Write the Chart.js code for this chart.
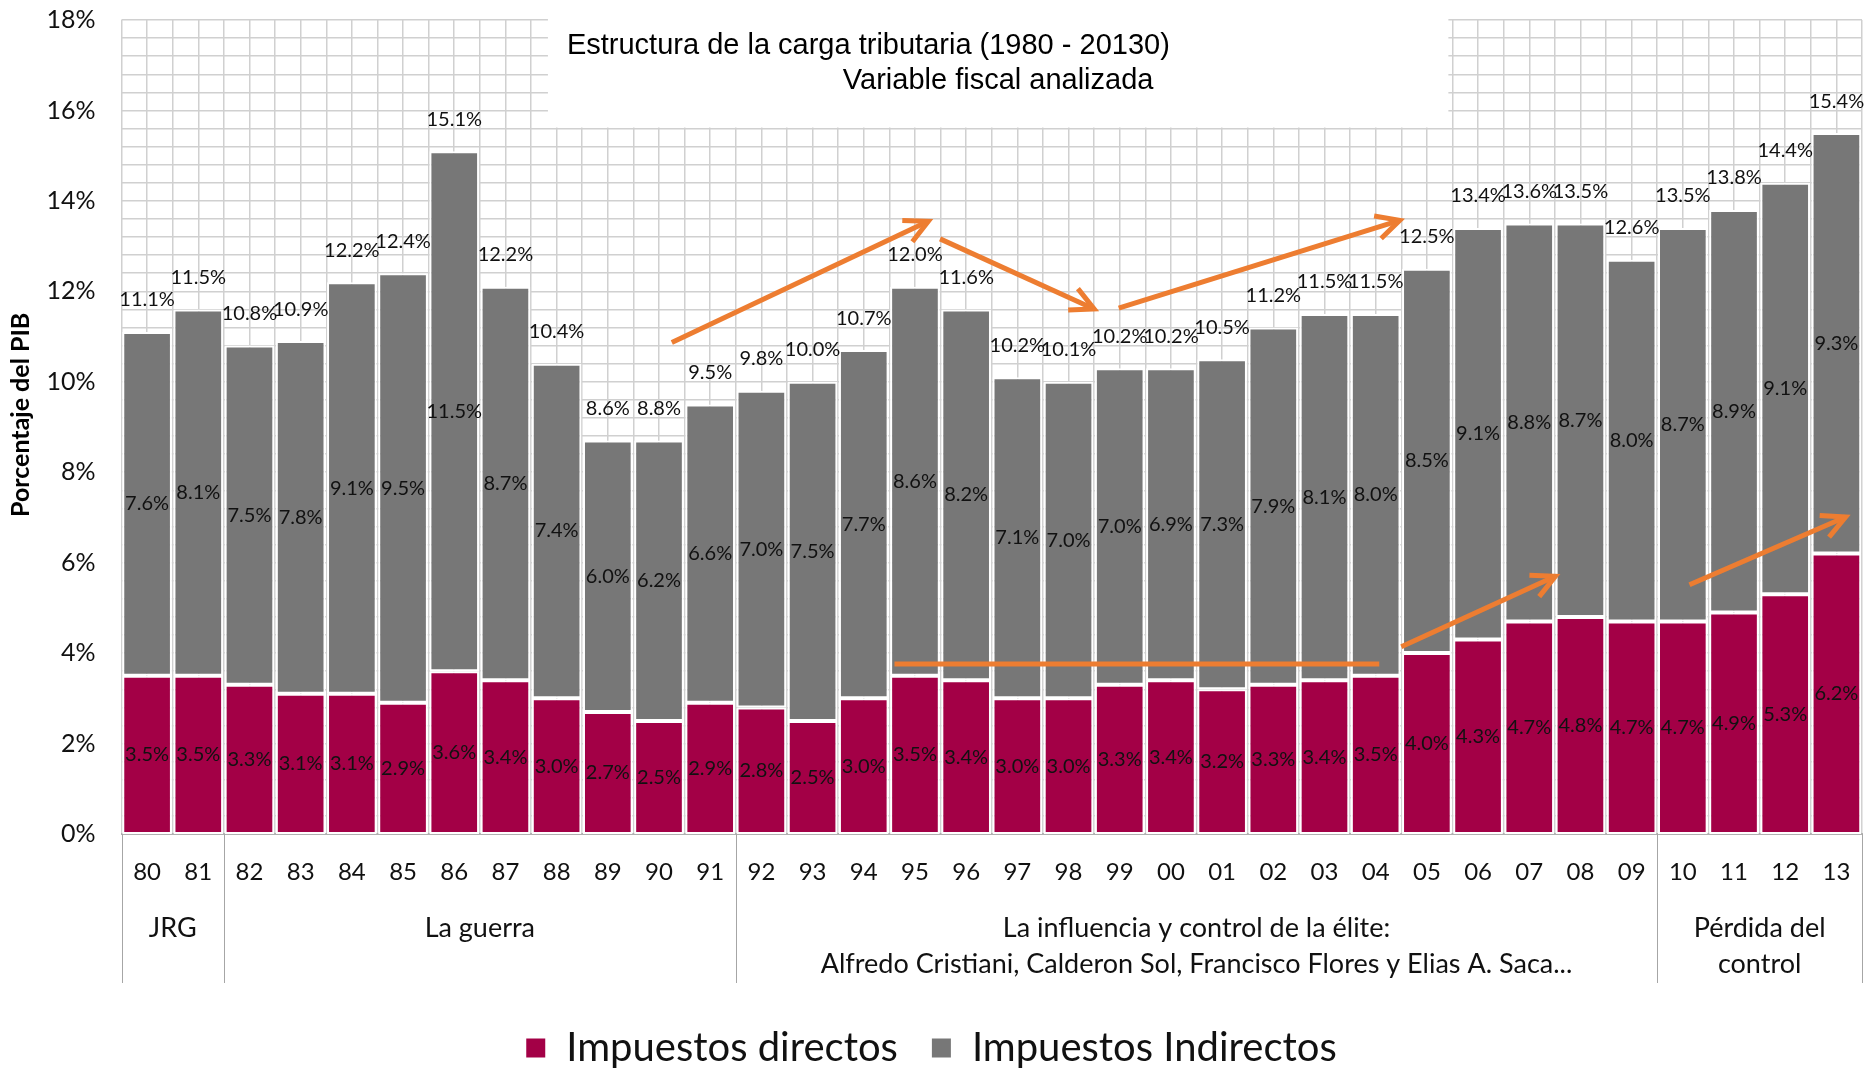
<!DOCTYPE html>
<html>
<head>
<meta charset="utf-8">
<script src="https://cdn.jsdelivr.net/npm/chart.js@4.4.1/dist/chart.umd.min.js"></script>
<style>
  html, body { margin: 0; padding: 0; background: #fff; }
</style>
</head>
<body>
<canvas id="grafico" width="1868" height="1070"></canvas>
<script>
// datos (porcentaje del PIB)
const anios = ["80", "81", "82", "83", "84", "85", "86", "87", "88", "89", "90", "91", "92", "93", "94", "95", "96",
  "97", "98", "99", "00", "01", "02", "03", "04", "05", "06", "07", "08", "09", "10", "11", "12", "13"];
const directos = [3.5, 3.5, 3.3, 3.1, 3.1, 2.9, 3.6, 3.4, 3.0, 2.7, 2.5, 2.9, 2.8, 2.5, 3.0, 3.5, 3.4,
  3.0, 3.0, 3.3, 3.4, 3.2, 3.3, 3.4, 3.5, 4.0, 4.3, 4.7, 4.8, 4.7, 4.7, 4.9, 5.3, 6.2];
const indirectos = [7.6, 8.1, 7.5, 7.8, 9.1, 9.5, 11.5, 8.7, 7.4, 6.0, 6.2, 6.6, 7.0, 7.5, 7.7, 8.6, 8.2,
  7.1, 7.0, 7.0, 6.9, 7.3, 7.9, 8.1, 8.0, 8.5, 9.1, 8.8, 8.7, 8.0, 8.7, 8.9, 9.1, 9.3];
const totales = [11.1, 11.5, 10.8, 10.9, 12.2, 12.4, 15.1, 12.2, 10.4, 8.6, 8.8, 9.5, 9.8, 10.0, 10.7, 12.0, 11.6,
  10.2, 10.1, 10.2, 10.2, 10.5, 11.2, 11.5, 11.5, 12.5, 13.4, 13.6, 13.5, 12.6, 13.5, 13.8, 14.4, 15.4];

// periodos del eje x (indices de anios)
const grupos = [
  { desde: 0, hasta: 1, texto: ["JRG"] },
  { desde: 2, hasta: 11, texto: ["La guerra"] },
  { desde: 12, hasta: 29, texto: ["La influencia y control de la élite:", "Alfredo Cristiani, Calderon Sol, Francisco Flores y Elias A. Saca..."] },
  { desde: 30, hasta: 33, texto: ["Pérdida del", "control"] }
];

// flechas naranjas (indice de anio, % del PIB)
const flechas = [
  { x0: 10.25, y0: 10.87, x1: 15.26, y1: 13.55, punta: true },
  { x0: 15.49, y0: 13.16, x1: 18.50, y1: 11.61, punta: true },
  { x0: 18.98, y0: 11.63, x1: 24.47, y1: 13.57, punta: true },
  { x0: 14.60, y0: 3.76, x1: 24.07, y1: 3.76, punta: false },
  { x0: 24.50, y0: 4.14, x1: 27.51, y1: 5.70, punta: true },
  { x0: 30.13, y0: 5.51, x1: 33.18, y1: 7.01, punta: true }
];

const titulo = ["Estructura de la carga tributaria (1980 - 20130)", "Variable fiscal analizada"];
const cajaTitulo = { x0: 7.83, x1: 25.42, y0: 15.6, y1: 18 };

const colorDirectos = "#A30046";
const colorIndirectos = "#777777";
const colorGrilla = "#D0D0D0";

// caja blanca del titulo sobre la grilla
const tituloPlugin = {
  id: "titulo",
  beforeDatasetsDraw(chart) {
    const ctx = chart.ctx;
    const x2 = chart.scales.x2;
    const y = chart.scales.y;
    const l = x2.getPixelForValue(cajaTitulo.x0);
    const r = x2.getPixelForValue(cajaTitulo.x1);
    const t = y.getPixelForValue(cajaTitulo.y1) - 3;
    const b = y.getPixelForValue(cajaTitulo.y0) - 1;
    ctx.save();
    ctx.fillStyle = "#fff";
    ctx.fillRect(l, t, r - l, b - t);
    ctx.fillStyle = "#000";
    ctx.font = "29px 'Liberation Sans', Arial, sans-serif";
    ctx.textBaseline = "middle";
    ctx.textAlign = "left";
    ctx.fillText(titulo[0], l + 19, chart.chartArea.top + 26);
    ctx.textAlign = "center";
    ctx.fillText(titulo[1], (l + r) / 2, chart.chartArea.top + 61);
    ctx.restore();
  }
};

// valores sobre y dentro de las barras
const etiquetasPlugin = {
  id: "etiquetas",
  afterDatasetsDraw(chart) {
    const ctx = chart.ctx;
    ctx.save();
    ctx.font = "20px Lato, sans-serif";
    ctx.fillStyle = "#111";
    ctx.textAlign = "center";
    ctx.textBaseline = "middle";
    chart.data.datasets.forEach((ds, d) => {
      chart.getDatasetMeta(d).data.forEach((bar, i) => {
        ctx.fillText(ds.data[i].toFixed(1) + "%", bar.x, (bar.y + bar.base) / 2);
      });
    });
    chart.getDatasetMeta(1).data.forEach((bar, i) => {
      ctx.fillText(totales[i].toFixed(1) + "%", bar.x, bar.y - 32);
    });
    ctx.restore();
  }
};

function flecha(ctx, x0, y0, x1, y1, punta) {
  ctx.beginPath();
  ctx.moveTo(x0, y0);
  ctx.lineTo(x1, y1);
  ctx.stroke();
  if (punta) {
    const a = Math.atan2(y1 - y0, x1 - x0);
    const L = 26, w = Math.PI * 27 / 180;
    ctx.beginPath();
    ctx.moveTo(x1 - L * Math.cos(a - w), y1 - L * Math.sin(a - w));
    ctx.lineTo(x1, y1);
    ctx.lineTo(x1 - L * Math.cos(a + w), y1 - L * Math.sin(a + w));
    ctx.stroke();
  }
}

const flechasPlugin = {
  id: "flechas",
  afterDatasetsDraw(chart) {
    const ctx = chart.ctx;
    const x2 = chart.scales.x2;
    const y = chart.scales.y;
    ctx.save();
    ctx.strokeStyle = "#ED7D31";
    ctx.lineWidth = 5;
    ctx.lineCap = "butt";
    ctx.lineJoin = "miter";
    flechas.forEach(f => {
      flecha(ctx, x2.getPixelForValue(f.x0), y.getPixelForValue(f.y0),
        x2.getPixelForValue(f.x1), y.getPixelForValue(f.y1), f.punta);
    });
    ctx.restore();
  }
};

// periodos y separadores debajo de los anios
const gruposPlugin = {
  id: "grupos",
  afterDraw(chart) {
    const ctx = chart.ctx;
    const x2 = chart.scales.x2;
    const base = chart.chartArea.bottom;
    ctx.save();
    ctx.strokeStyle = "#A6A6A6";
    ctx.lineWidth = 1;
    const cortes = grupos.map(g => g.desde - 0.5).concat(grupos[grupos.length - 1].hasta + 0.5);
    cortes.forEach(c => {
      const px = Math.round(x2.getPixelForValue(c)) + 0.5;
      ctx.beginPath();
      ctx.moveTo(px, base);
      ctx.lineTo(px, base + 149);
      ctx.stroke();
    });
    ctx.fillStyle = "#111";
    ctx.font = "27px Lato, sans-serif";
    ctx.textAlign = "center";
    ctx.textBaseline = "middle";
    grupos.forEach(g => {
      const cx = (x2.getPixelForValue(g.desde) + x2.getPixelForValue(g.hasta)) / 2;
      g.texto.forEach((t, k) => ctx.fillText(t, cx, base + 94 + k * 36));
    });
    ctx.restore();
  }
};

new Chart(document.getElementById("grafico"), {
  type: "bar",
  data: {
    labels: anios,
    datasets: [
      {
        label: "Impuestos directos",
        data: directos,
        backgroundColor: colorDirectos,
        borderColor: "#fff",
        borderWidth: 2,
        borderSkipped: false
      },
      {
        label: "Impuestos Indirectos",
        data: indirectos,
        backgroundColor: colorIndirectos,
        borderColor: "#fff",
        borderWidth: 2,
        borderSkipped: false
      }
    ]
  },
  options: {
    responsive: false,
    animation: false,
    layout: { padding: { top: 20, right: 6, left: 0, bottom: -8 } },
    datasets: { bar: { categoryPercentage: 0.97, barPercentage: 1 } },
    plugins: {
      tooltip: { enabled: false },
      legend: {
        position: "bottom",
        labels: {
          font: { family: "Lato", size: 40 },
          color: "#111",
          boxWidth: 21,
          boxHeight: 21,
          padding: 33
        }
      }
    },
    scales: {
      x: {
        stacked: true,
        position: "bottom",
        grid: { display: false, drawTicks: true, tickLength: 22 },
        border: { display: true, color: "#B0B0B0", width: 2 },
        ticks: { font: { family: "Lato", size: 24 }, color: "#111", padding: 2, maxRotation: 0, autoSkip: false },
        afterFit: s => { s.height = 161; }
      },
      x2: {
        type: "linear",
        position: "top",
        offset: false,
        min: -0.5,
        max: 33.5,
        ticks: { display: false, stepSize: 0.5 },
        grid: { color: colorGrilla, lineWidth: 1.5, drawTicks: false, offset: false },
        border: { display: false },
        afterFit: s => { s.height = 0; }
      },
      y: {
        stacked: true,
        min: 0,
        max: 18,
        grid: { display: false, drawTicks: true, tickLength: 24 },
        border: { display: false },
        ticks: { stepSize: 2, font: { family: "Lato", size: 25 }, color: "#111", padding: 2, callback: v => v + "%" },
        title: {
          display: true,
          text: "    Porcentaje del PIB",
          font: { family: "Lato", size: 25, weight: "bold" },
          color: "#000",
          padding: { top: 6, bottom: 0 }
        },
        afterFit: s => { s.width = 121.5; }
      },
      y2: {
        type: "linear",
        position: "right",
        min: 0,
        max: 18,
        ticks: { display: false, stepSize: 0.4 },
        grid: { color: colorGrilla, lineWidth: 1.5, drawTicks: false },
        border: { display: false },
        afterFit: s => { s.width = 0; }
      }
    }
  },
  plugins: [tituloPlugin, etiquetasPlugin, flechasPlugin, gruposPlugin]
});
</script>
</body>
</html>
